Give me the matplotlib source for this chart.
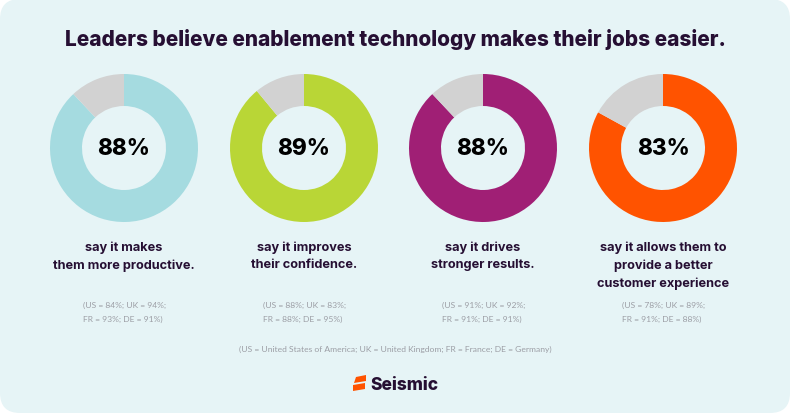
import matplotlib as mpl
mpl.use('Agg')
import matplotlib.pyplot as plt
from matplotlib.patches import FancyBboxPatch, Polygon

title = 'Leaders believe enablement technology makes their jobs easier.'
values = [88, 89, 88, 83]
colors = ['#a5dbe0', '#b9d636', '#a01f75', '#ff5300']
captions = ['say it makes\nthem more productive.',
            'say it improves\ntheir confidence.',
            'say it drives\nstronger results.',
            'say it allows them to\nprovide a better\ncustomer experience']
details = ['(US = 84%; UK = 94%;\nFR = 93%; DE = 91%)',
           '(US = 88%; UK = 83%;\nFR = 88%; DE = 95%)',
           '(US = 91%; UK = 92%;\nFR = 91%; DE = 91%)',
           '(US = 78%; UK = 89%;\nFR = 91%; DE = 88%)']
footnote = '(US = United States of America; UK = United Kingdom; FR = France; DE = Germany)'
brand = 'Seismic'

W, H = 790, 414
bg = '#e6f4f6'
dark = '#260f33'
grey = '#d2d2d2'
small = '#9c9ea5'
centers = [124, 304, 483, 663]
cy = 149
R = 74
hole = 42

fig = plt.figure(figsize=(W / 100, H / 100), dpi=100, facecolor='white')

def pixel_axes(z):
  ax = fig.add_axes([0, 0, 1, 1], zorder=z)
  ax.set_xlim(0, W)
  ax.set_ylim(H, 0)
  ax.axis('off')
  return ax

under = pixel_axes(-1)
under.add_patch(FancyBboxPatch((0, 0), W, H, boxstyle='round,pad=0,rounding_size=20',
                               fc=bg, ec='none', clip_on=False))
top = pixel_axes(1)

def text(x, y, s, **kw):
  top.text(x, y, s, ha='center', va='center', **kw)

text(395, 39, title, fontsize=15.0, fontweight=800, family='Inter', color=dark)

for cx, val, col, cap, det in zip(centers, values, colors, captions, details):
  ax = fig.add_axes([(cx - R) / W, 1 - (cy + R) / H, 2 * R / W, 2 * R / H], zorder=0)
  ax.pie([val, 100 - val], colors=[col, grey], startangle=90, counterclock=False, radius=1,
         wedgeprops=dict(width=1 - hole / R, linewidth=0))
  ax.set_xlim(-1, 1)
  ax.set_ylim(-1, 1)
  text(cx, 149.5, str(val) + '%', fontsize=16.2, fontweight=800, family='Inter', color='black')
  for i, line in enumerate(cap.split('\n')):
    text(cx, 247.5 + i * 18, line, fontsize=9.2, fontweight='bold', family='Inter', color=dark)
  for i, line in enumerate(det.split('\n')):
    top.text(cx - 41, 305 + i * 14, line, ha='left', va='center', fontsize=6.1, family='Lato', color=small)

text(395, 349, footnote, fontsize=6.1, family='Lato', color=small)

# logo
top.add_patch(Polygon([[356, 378], [366, 376], [366, 382], [354, 384]], fc='#ff5300', ec='none'))
top.add_patch(Polygon([[353, 386], [365, 384], [365, 390], [353, 392]], fc='#ff5300', ec='none'))
top.text(370, 385.5, brand, ha='left', va='center', fontsize=12.5, fontweight=800, family='Inter', color=dark)

fig.savefig('out.png', dpi=100, facecolor='white')
